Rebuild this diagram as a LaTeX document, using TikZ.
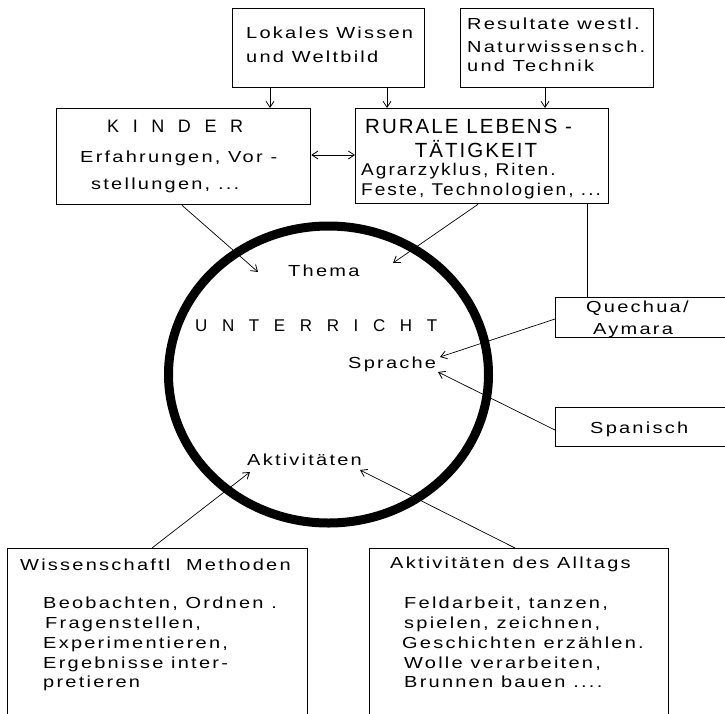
\documentclass[tikz,border=0pt]{standalone}
\usepackage{fontspec}
\setmainfont{Liberation Sans}
\newfontfamily\bodyf{Liberation Sans}[FakeStretch=1.25,LetterSpace=14]
\newfontfamily\rurf{Liberation Sans}[FakeStretch=1.12,LetterSpace=12]
\newfontfamily\titf{Liberation Sans}[LetterSpace=10]
\usetikzlibrary{arrows.meta}
\begin{document}
\begin{tikzpicture}[x=1pt,y=-1pt,
  box/.style={draw, line width=1.3pt, inner sep=0pt, anchor=north west},
  txt/.style={anchor=base west, inner sep=0pt, font=\bodyf\fontsize{16}{18}\selectfont},
  rtxt/.style={anchor=base west, inner sep=0pt, font=\rurf\fontsize{17}{19}\selectfont},
  con/.style={line width=0.7pt},
  arr/.style={con, -{Straight Barb[length=6pt,width=8pt,line width=0.8pt]}},
  darr/.style={con, {Straight Barb[length=6pt,width=8pt,line width=0.8pt]}-{Straight Barb[length=6pt,width=8pt,line width=0.8pt]}}]
\useasboundingbox (0,0) rectangle (725,713);

% boxes
\node[box, minimum width=192pt, minimum height=79pt] (lok) at (232,8) {};
\node[box, minimum width=193pt, minimum height=79pt] (res) at (460,8) {};
\node[box, minimum width=254pt, minimum height=96pt] (kin) at (56,108) {};
\node[box, minimum width=253pt, minimum height=95pt] (rur) at (355,108) {};
\node[box, minimum width=190pt, minimum height=40pt] (que) at (555,297) {};
\node[box, minimum width=190pt, minimum height=39pt] (spa) at (555,407) {};
\node[box, minimum width=300pt, minimum height=190pt] (wis) at (7,548) {};
\node[box, minimum width=299pt, minimum height=190pt] (all) at (369,548) {};

% ring
\draw[line width=9pt] (328.5,374.5) ellipse [x radius=160, y radius=148.5];

% texts
\node[txt] (l1) at (246,38) {Lokales Wissen};
\node[txt] (l2) at (246,62) {und Weltbild};
\node[txt] (r1) at (467,29) {Resultate westl.};
\node[txt] (r2) at (467,52) {Naturwissensch.};
\node[txt] (r3) at (467,71) {und Technik};

\node[anchor=base west, inner sep=0pt, font=\fontsize{18}{20}\selectfont] (k0) at (107,132)
  {\makebox[136pt][s]{K\hfil I\hfil N\hfil D\hfil E\hfil R}};
\node[txt] (k1) at (80,162) {Erfahrungen, Vor -};
\node[txt] (k2) at (91,189) {stellungen, ...};

\node[anchor=base west, inner sep=0pt, font=\titf\fontsize{20.5}{22}\selectfont] (u0) at (365,133) {RURALE LEBENS -};
\node[anchor=base, inner sep=0pt, font=\titf\fontsize{20.5}{22}\selectfont] (u1) at (476,157) {TÄTIGKEIT};
\node[rtxt] (u2) at (361,175) {Agrarzyklus, Riten.};
\node[rtxt] (u3) at (361,195) {Feste, Technologien, ...};

\node[txt] (thema) at (288,276) {Thema};
\node[anchor=base west, inner sep=0pt, font=\fontsize{17}{19}\selectfont] (unt) at (195,331)
  {\makebox[242pt][s]{U\hfil N\hfil T\hfil E\hfil R\hfil R\hfil I\hfil C\hfil H\hfil T}};
\node[txt] (spr) at (348,368) {Sprache};
\node[txt] (akt) at (247,465) {Aktivitäten};

\node[txt] (q1) at (586,312) {Quechua/};
\node[txt] (q2) at (593,334) {Aymara};
\node[txt] (s1) at (590,433) {Spanisch};

\node[txt] (w0) at (20,570) {Wissenschaftl\ \ Methoden};
\node[txt] (w1) at (43,608) {Beobachten, Ordnen .};
\node[txt] (w2) at (45,628) {Fragenstellen,};
\node[txt] (w3) at (43,648) {Experimentieren,};
\node[txt] (w4) at (43,668) {Ergebnisse inter-};
\node[txt] (w5) at (43,687) {pretieren};

\node[txt] (a0) at (390,568) {Aktivitäten des Alltags};
\node[txt] (a1) at (404,608) {Feldarbeit, tanzen,};
\node[txt] (a2) at (404,628) {spielen, zeichnen,};
\node[txt] (a3) at (402,648) {Geschichten erzählen.};
\node[txt] (a4) at (404,668) {Wolle verarbeiten,};
\node[txt] (a5) at (404,687) {Brunnen bauen ....};

% arrow tips (free ends)
\coordinate (tThemaL) at (258,272);
\coordinate (tThemaR) at (393,263);
\coordinate (tSprQ) at (440,357);
\coordinate (tSprS) at (438,372);
\coordinate (tAktL) at (250,472);
\coordinate (tAktR) at (360,470);

% connectors
\draw[arr] (lok.south -| 270,0) -- (kin.north -| 270,0);
\draw[arr] (lok.south -| 387,0) -- (rur.north -| 387,0);
\draw[arr] (res.south -| 545,0) -- (rur.north -| 545,0);
\draw[darr] (kin.east |- 0,155) -- (rur.west |- 0,155);
\draw[arr] (kin.south -| 182,0) -- (tThemaL);
\draw[arr] (rur.south -| 478,0) -- (tThemaR);
\draw[con] (rur.south -| 587,0) -- (que.north -| 587,0);
\draw[arr] (que.west |- 0,319) -- (tSprQ);
\draw[arr] (spa.west |- 0,430) -- (tSprS);
\draw[arr] (wis.north -| 152,0) -- (tAktL);
\draw[arr] (all.north -| 515,0) -- (tAktR);
\end{tikzpicture}
\end{document}
